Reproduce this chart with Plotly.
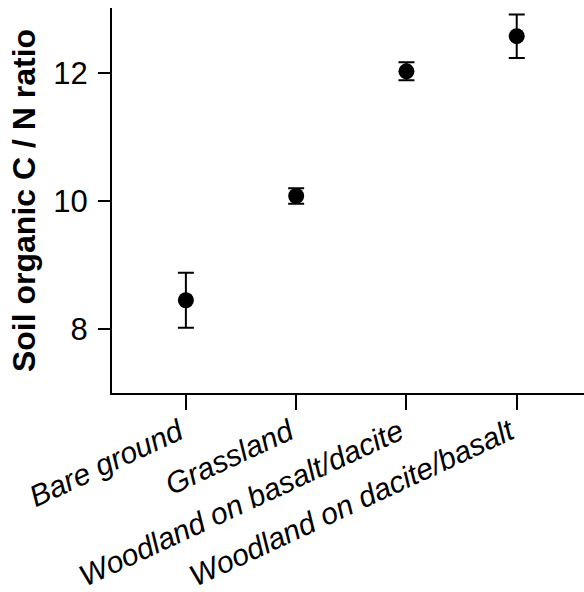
import plotly.graph_objects as go

categories = ["Bare ground", "Grassland", "Woodland on basalt/dacite", "Woodland on dacite/basalt"]
cn_ratio = [8.45, 10.08, 12.03, 12.58]
cn_error = [0.43, 0.12, 0.14, 0.34]
y_ticks = [8, 10, 12]

fig = go.Figure(
    go.Scatter(
        x=list(range(len(categories))),
        y=cn_ratio,
        mode="markers",
        marker=dict(color="black", size=16),
        error_y=dict(type="data", array=cn_error, color="black", thickness=2, width=8),
        showlegend=False,
    )
)

font_family = "Liberation Sans, Arial, sans-serif"

fig.update_layout(
    width=584,
    height=592,
    margin=dict(l=112, r=0, t=8, b=199),
    plot_bgcolor="white",
    paper_bgcolor="white",
    font=dict(family=font_family, color="black"),
)

fig.update_xaxes(
    range=[-0.67, 3.61],
    tickmode="array",
    tickvals=list(range(len(categories))),
    ticktext=categories,
    tickangle=-25,
    tickfont=dict(size=30, family=font_family, style="italic"),
    ticklabelshift=-7,
    ticklabelstandoff=-7,
    showline=True,
    linecolor="black",
    linewidth=2,
    ticks="outside",
    ticklen=15,
    tickwidth=2,
    tickcolor="black",
    showgrid=False,
    zeroline=False,
    automargin=False,
)

fig.update_yaxes(
    range=[7.0, 13.02],
    tickmode="array",
    tickvals=y_ticks,
    ticktext=[str(v) for v in y_ticks],
    tickfont=dict(size=31, family=font_family),
    ticklabelstandoff=4,
    title=dict(text="<b>Soil organic C / N ratio</b>", font=dict(size=32, family=font_family), standoff=8),
    showline=True,
    linecolor="black",
    linewidth=2,
    ticks="outside",
    ticklen=12,
    tickwidth=2,
    tickcolor="black",
    showgrid=False,
    zeroline=False,
    automargin=False,
)

fig.write_html("out.html")
